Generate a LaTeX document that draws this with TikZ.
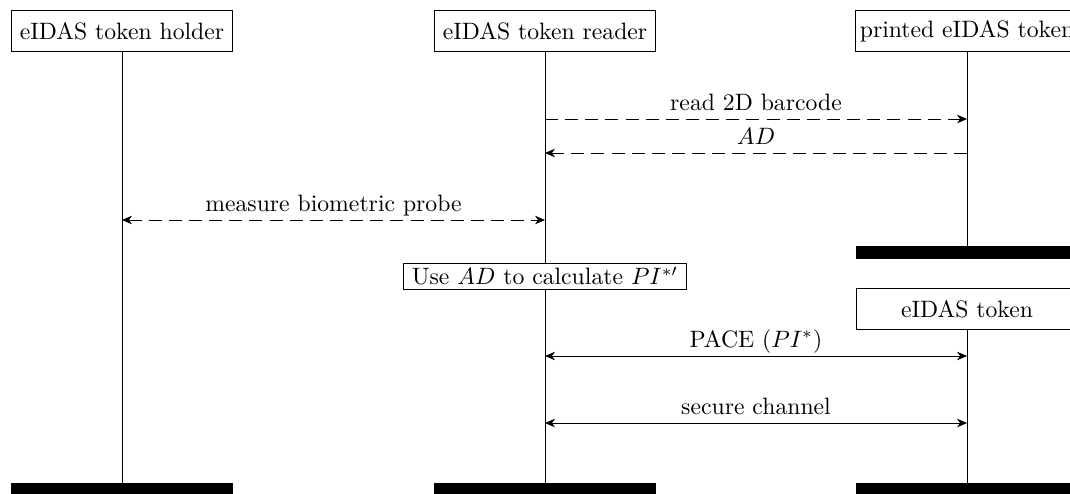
\documentclass[tikz,border=0pt]{standalone}
\usepackage{amsmath,amssymb}
\usepackage{tikz}
\usetikzlibrary{arrows.meta}

\tikzset{
	instbox/.style = {draw, fill = white, minimum width = 93.3pt, minimum height = 17pt, inner xsep = 2pt},
	actbox/.style = {draw, fill = white, minimum width = 119.4pt, minimum height = 11pt, inner sep = 0.5pt},
	endbar/.style = {fill = black, minimum width = 93.3pt, minimum height = 5.5pt, inner sep = 0pt},
	tip/.tip = {Stealth[length=4.2pt, width=3.6pt, inset=1.3pt]},
	msg/.style = {-tip},
	msgboth/.style = {tip-tip},
	dashline/.style = {dash pattern = on 5.5pt off 3pt},
	msglabel/.style = {midway, anchor = base, yshift = 3.8pt, inner sep = 0pt}
}

\begin{document}
\begin{tikzpicture} [x = 0.422pt, y = -0.422pt]
	\clip (0,0) rectangle (1070,493);
	% instances
	\node [instbox] (holder) at (122,31) {eIDAS token holder};
	\node [instbox] (reader) at (545,31) {eIDAS token reader};
	\node [instbox] (printed) at (967,31) {printed eIDAS token};
	\node [endbar] (printedend) at (967,252.5) {};
	\node [actbox] (calc) at (545,276) {Use $AD$ to calculate $PI^{*\prime}$};
	\node [instbox] (token) at (967,309) {eIDAS token};
	\node [endbar] (holderend) at (122,489.5) {};
	\node [endbar] (readerend) at (545,489.5) {};
	\node [endbar] (tokenend) at (967,489.5) {};
	% lifelines
	\draw (holder) -- (holderend);
	\draw (reader) -- (calc);
	\draw (calc) -- (readerend);
	\draw (printed) -- (printedend);
	\draw (token) -- (tokenend);
	% message points
	\coordinate (r1) at (545,119);
	\coordinate (p1) at (967,119);
	\coordinate (r2) at (545,153);
	\coordinate (p2) at (967,153);
	\coordinate (h3) at (122,220);
	\coordinate (r3) at (545,220);
	\coordinate (r4) at (545,356);
	\coordinate (t4) at (967,356);
	\coordinate (r5) at (545,423);
	\coordinate (t5) at (967,423);
	% messages
	\draw [msg, dashline] (r1) -- node [msglabel] {read 2D barcode} (p1);
	\draw [msg, dashline] (p2) -- node [msglabel] {$AD$} (r2);
	\draw [msgboth, dashline] (h3) -- node [msglabel] {measure biometric probe} (r3);
	\draw [msgboth] (r4) -- node [msglabel] {PACE ($PI^*$)} (t4);
	\draw [msgboth] (r5) -- node [msglabel] {secure channel} (t5);
\end{tikzpicture}
\end{document}
